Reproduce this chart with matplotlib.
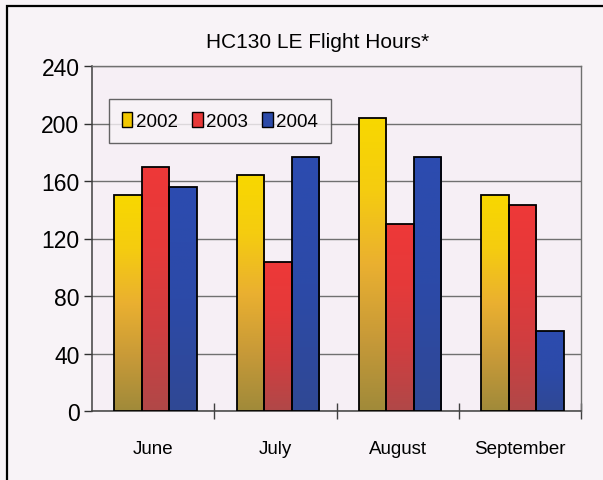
import matplotlib.pyplot as plt
import numpy as np
from matplotlib.colors import LinearSegmentedColormap
from matplotlib.patches import Rectangle, Patch

months = ["June", "July", "August", "September"]
years = ["2002", "2003", "2004"]
hours_2002 = [150, 164, 204, 150]
hours_2003 = [170, 104, 130, 143]
hours_2004 = [156, 177, 177, 56]
yticks = [0, 40, 80, 120, 160, 200, 240]

# top colour -> bottom colour of each series' gradient
grads = [
    ["#f8d800", "#f5cc10", "#eab030", "#c89a38", "#a08a3a"],
    ["#ee3838", "#e53a3a", "#d03e40", "#b04848"],
    ["#2c4cb0", "#2c4aa8", "#304894"],
]
legend_cols = ["#f2c800", "#e83838", "#2c4aa8"]

plt.rcParams["font.family"] = ["Liberation Sans", "DejaVu Sans"]

fig = plt.figure(figsize=(6.03, 4.81), dpi=100)
fig.patch.set_facecolor("#f8f3f7")
ax = fig.add_axes([92 / 603, 1 - 412 / 481, (581 - 92) / 603, (412 - 67) / 481])
ax.set_facecolor("#f6eff5")

x = np.arange(len(months))
w = 0.225
series = [hours_2002, hours_2003, hours_2004]
for i, vals in enumerate(series):
    bars = ax.bar(x + (i - 1) * w + 0.02, vals, w, facecolor="none",
                  edgecolor="black", linewidth=1.3, zorder=4)
    cmap = LinearSegmentedColormap.from_list("g%d" % i, grads[i][::-1])
    grad = np.linspace(0, 1, 256).reshape(-1, 1)
    for b in bars:
        x0, y0 = b.get_x(), b.get_y()
        im = ax.imshow(grad, cmap=cmap, origin="lower", aspect="auto",
                       extent=[x0, x0 + b.get_width(), y0, y0 + b.get_height()],
                       zorder=3)
        im.set_clip_path(b)

ax.set_xlim(-0.5, 3.5)
ax.set_ylim(0, 240)
ax.set_yticks(yticks)
ax.set_yticklabels([str(t) for t in yticks], fontsize=16.5)
ax.yaxis.grid(True, color="#707070", linewidth=1.0, zorder=1)
ax.set_axisbelow(True)
ax.tick_params(axis="y", direction="out", length=6, width=1, pad=3, colors="#303030",
               labelcolor="black")

ax.set_xticks(x)
ax.set_xticklabels(months, fontsize=13.5)
ax.tick_params(axis="x", length=0, pad=21)
ax.set_xticks([0.5, 1.5, 2.5, 3.5], minor=True)
ax.tick_params(axis="x", which="minor", direction="inout", length=12, width=1, color="#404040")

for s in ["left", "bottom"]:
    ax.spines[s].set_color("#404040")
    ax.spines[s].set_linewidth(1.1)
for s in ["top", "right"]:
    ax.spines[s].set_color("#707070")
    ax.spines[s].set_linewidth(1.0)

handles = [Patch(facecolor=c, edgecolor="black", linewidth=1) for c in legend_cols]
leg = ax.legend(handles, years, ncol=3, loc="upper left",
                bbox_to_anchor=((109 - 92) / 489, (412 - 100) / 345),
                fontsize=13.5, frameon=True, fancybox=False, handlelength=0.55,
                handleheight=0.85, handletextpad=0.2, columnspacing=0.75,
                borderpad=0.7, borderaxespad=0)
leg.get_frame().set_edgecolor("#404040")
leg.get_frame().set_facecolor("#f8f3f7")
leg.get_frame().set_linewidth(1.0)
leg.set_zorder(5)

fig.text(318 / 603, 1 - 43 / 481, "HC130 LE Flight Hours*", ha="center", va="center",
         fontsize=15)

frame = Rectangle((7 / 603, -0.01), 1.0, 1 - 7 / 481 + 0.01, transform=fig.transFigure,
                  fill=False, edgecolor="black", linewidth=1.6)
fig.patches.append(frame)

fig.savefig("out.png", dpi=100, facecolor=fig.get_facecolor())
